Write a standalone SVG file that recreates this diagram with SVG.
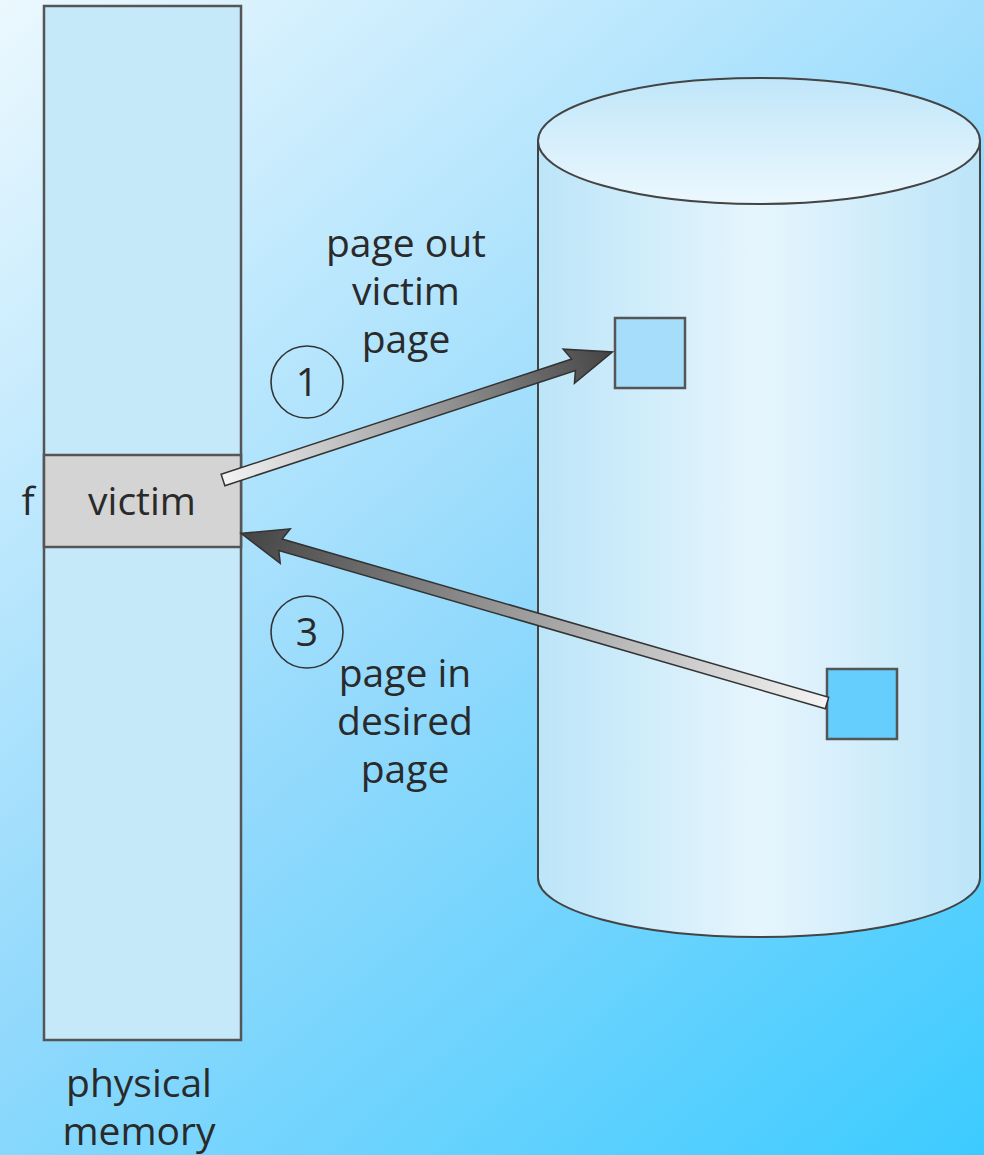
<svg xmlns="http://www.w3.org/2000/svg" width="984" height="1155" viewBox="0 0 984 1155">
<defs>
<linearGradient id="bg" gradientUnits="userSpaceOnUse" x1="0" y1="0" x2="984" y2="1155">
<stop offset="0" stop-color="#ecf8fe"/>
<stop offset="0.5" stop-color="#95dafc"/>
<stop offset="1" stop-color="#3ccbff"/>
</linearGradient>
<linearGradient id="body" x1="0" y1="0" x2="1" y2="0">
<stop offset="0" stop-color="#bce5f8"/>
<stop offset="0.5" stop-color="#e6f5fd"/>
<stop offset="1" stop-color="#bce5f8"/>
</linearGradient>
<linearGradient id="top" x1="0" y1="0" x2="0" y2="1">
<stop offset="0" stop-color="#c0e6f9"/>
<stop offset="1" stop-color="#ecf8fe"/>
</linearGradient>
<linearGradient id="arrowg" x1="0" y1="0" x2="1" y2="0">
<stop offset="0" stop-color="#f4f4f4"/>
<stop offset="0.5" stop-color="#a0a0a0"/>
<stop offset="1" stop-color="#444"/>
</linearGradient>
<style>
.t{font-family:"Open Sans","Liberation Sans",sans-serif;font-size:39px;fill:#2a2a2a;text-anchor:middle}
.box{stroke:#555;stroke-width:2.5}
.arr{fill:url(#arrowg);stroke:#333;stroke-width:1.5;stroke-linejoin:miter}
.circ{fill:none;stroke:#333;stroke-width:1.6}
</style>
</defs>
<rect x="0" y="0" width="984" height="1155" fill="url(#bg)"/>

<g id="memory">
<rect class="box" x="44" y="6" width="197" height="1034" fill="#c6e9fa"/>
</g>
<g id="victim-frame">
<rect class="box" x="44" y="455" width="197" height="92" fill="#d4d4d4"/>
<text class="t" x="142" y="515">victim</text>
</g>
<g id="frame-label">
<text class="t" x="28" y="515">f</text>
</g>
<g id="memory-label">
<text class="t" x="139" y="1097">physical</text>
<text class="t" x="139" y="1145">memory</text>
</g>

<g id="disk">
<path d="M538,141 V878 A221,59 0 0 0 980,878 V141 Z" fill="url(#body)" stroke="#444" stroke-width="2"/>
<ellipse cx="759" cy="141" rx="221" ry="63" fill="url(#top)" stroke="#444" stroke-width="2"/>
</g>
<g id="page-victim">
<rect class="box" x="615" y="318" width="70" height="70" fill="#a6ddfb"/>
</g>
<g id="page-desired">
<rect class="box" x="827" y="669" width="70" height="70" fill="#66cefd"/>
</g>

<g id="connectors">
<polygon class="arr" transform="translate(223,480) rotate(-18.2)" points="0,-6 369,-6 364,-18 410,0 364,18 369,6 0,6"/>
<polygon class="arr" transform="translate(827,703) rotate(-163.85)" points="0,-6 569,-6 564,-18 610,0 564,18 569,6 0,6"/>
</g>

<g id="step1">
<circle class="circ" cx="307" cy="382" r="36"/>
<text class="t" x="307" y="396">1</text>
</g>
<g id="step3">
<circle class="circ" cx="307" cy="632" r="36"/>
<text class="t" x="307" y="646">3</text>
</g>
<g id="label-out">
<text class="t" x="406" y="257">page out</text>
<text class="t" x="406" y="305">victim</text>
<text class="t" x="406" y="353">page</text>
</g>
<g id="label-in">
<text class="t" x="405" y="687">page in</text>
<text class="t" x="405" y="735">desired</text>
<text class="t" x="405" y="783">page</text>
</g>
</svg>
